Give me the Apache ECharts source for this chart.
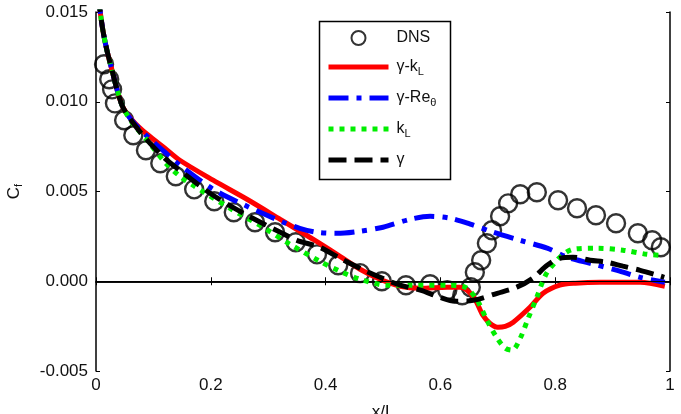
<!DOCTYPE html>
<html>
<head>
<meta charset="utf-8">
<script src="https://cdn.jsdelivr.net/npm/echarts@6/dist/echarts.min.js"></script>
<style>
  html, body { margin: 0; padding: 0; background: #fff; }
  #chart { width: 681px; height: 414px; }
</style>
</head>
<body>
<div id="chart"></div>
<script>
// DNS skin friction
var dnsX = [0.014, 0.023, 0.028, 0.033, 0.049, 0.065, 0.087, 0.112, 0.139, 0.171, 0.206, 0.240,
  0.277, 0.312, 0.348, 0.385, 0.422, 0.460, 0.498, 0.540, 0.582, 0.612, 0.638, 0.653, 0.660,
  0.671, 0.681, 0.690, 0.704, 0.718, 0.739, 0.768, 0.805, 0.838, 0.871, 0.906, 0.944, 0.969, 0.984];
var dnsY = [0.01209, 0.01125, 0.01069, 0.00991, 0.00897, 0.00813, 0.00730, 0.00657, 0.00585, 0.00512,
  0.00446, 0.00384, 0.00329, 0.00273, 0.00217, 0.00150, 0.00089, 0.00045, 0.00000, -0.00022, -0.00017,
  -0.00050, -0.00078, -0.00033, 0.00050, 0.00117, 0.00212, 0.00284, 0.00362, 0.00434, 0.00485,
  0.00496, 0.00451, 0.00407, 0.00368, 0.00323, 0.00267, 0.00228, 0.00189];

// gamma-kL model
var redX = [0.004, 0.007, 0.012, 0.019, 0.028, 0.037, 0.047, 0.065, 0.089, 0.120, 0.146, 0.204, 0.263,
  0.321, 0.378, 0.425, 0.460, 0.495, 0.530, 0.565, 0.612, 0.634, 0.657, 0.674, 0.686, 0.700, 0.713,
  0.727, 0.756, 0.779, 0.808, 0.835, 0.878, 0.948, 0.991];
var redY = [0.0160, 0.01510, 0.01398, 0.01287, 0.01175, 0.01064, 0.00969, 0.00891, 0.00819, 0.00741,
  0.00674, 0.00563, 0.00457, 0.00345, 0.00234, 0.00139, 0.00067, 0.00011, -0.00028, -0.00039,
  -0.00033, -0.00033, -0.00084, -0.00189, -0.00234, -0.00256, -0.00251, -0.00228, -0.00145,
  -0.00067, -0.00022, -0.00011, -0.00006, -0.00006, -0.00028];

// gamma-Re_theta model
var blueX = [0.004, 0.007, 0.012, 0.019, 0.028, 0.037, 0.047, 0.065, 0.089, 0.120, 0.146, 0.204, 0.263,
  0.326, 0.355, 0.385, 0.420, 0.460, 0.500, 0.547, 0.582, 0.617, 0.652, 0.692, 0.739, 0.786, 0.821,
  0.861, 0.908, 0.948, 0.991];
var blueY = [0.0160, 0.01510, 0.01398, 0.01287, 0.01175, 0.01064, 0.00969, 0.00886, 0.00808, 0.00719,
  0.00646, 0.00513, 0.00418, 0.00329, 0.00295, 0.00273, 0.00267, 0.00279, 0.00301, 0.00345, 0.00362,
  0.00351, 0.00318, 0.00273, 0.00228, 0.00184, 0.00134, 0.00100, 0.00061, 0.00022, -0.00006];

// kL model
var greenX = [0.004, 0.007, 0.012, 0.019, 0.028, 0.037, 0.047, 0.065, 0.089, 0.120, 0.146, 0.169, 0.233,
  0.291, 0.338, 0.390, 0.425, 0.460, 0.507, 0.552, 0.612, 0.643, 0.664, 0.681, 0.699, 0.713, 0.725,
  0.739, 0.753, 0.768, 0.777, 0.786, 0.800, 0.812, 0.831, 0.873, 0.918, 0.960, 0.983];
var greenY = [0.0160, 0.01510, 0.01398, 0.01287, 0.01175, 0.01064, 0.00969, 0.00875, 0.00786, 0.00663,
  0.00585, 0.00535, 0.00407, 0.00301, 0.00206, 0.00111, 0.00056, 0.00011, -0.00022, -0.00022,
  -0.00022, -0.00033, -0.00106, -0.00217, -0.00318, -0.00373, -0.00384, -0.00318, -0.00206,
  -0.00089, -0.00011, 0.00050, 0.00106, 0.00145, 0.00178, 0.00184, 0.00173, 0.00150, 0.00145];

// gamma model
var blackX = [0.004, 0.007, 0.012, 0.019, 0.028, 0.037, 0.047, 0.065, 0.089, 0.120, 0.146, 0.204, 0.263,
  0.321, 0.350, 0.390, 0.425, 0.460, 0.495, 0.530, 0.565, 0.599, 0.625, 0.657, 0.699, 0.733, 0.761,
  0.786, 0.808, 0.831, 0.861, 0.890, 0.918, 0.948, 0.979, 0.990];
var blackY = [0.0160, 0.01510, 0.01398, 0.01287, 0.01175, 0.01064, 0.00969, 0.00880, 0.00786, 0.00685,
  0.00618, 0.00479, 0.00368, 0.00273, 0.00228, 0.00189, 0.00128, 0.00072, 0.00022, -0.00022,
  -0.00050, -0.00089, -0.00111, -0.00106, -0.00067, -0.00033, 0.00017, 0.00089, 0.00128, 0.00134,
  0.00117, 0.00106, 0.00084, 0.00061, 0.00033, 0.00022];

var xTicks = [0, 0.2, 0.4, 0.6, 0.8, 1];
var yTicks = [-0.005, 0, 0.005, 0.010, 0.015];

function zip(xs, ys) {
  return xs.map(function (x, i) { return [x, ys[i]]; });
}

var legendText = {
  'DNS': 'DNS',
  'γ-kL': 'γ-k{sub|L}',
  'γ-Reθ': 'γ-Re{sub|θ}',
  'kL': 'k{sub|L}',
  'γ': 'γ'
};

function lineItem(name) {
  return { name: name, itemStyle: { opacity: 0 }, lineStyle: { width: 5 } };
}

var font = 'Liberation Sans, Arial, sans-serif';
var myChart = echarts.init(document.getElementById('chart'));
var option = {
  animation: false,
  backgroundColor: '#fff',
  grid: { left: 96, right: 11, top: 12, bottom: 43, containLabel: false, outerBoundsMode: 'none' },
  xAxis: [{
    type: 'value', min: xTicks[0], max: xTicks[xTicks.length - 1], interval: 0.2,
    name: 'x/L', nameLocation: 'middle', nameGap: 33,
    nameTextStyle: { fontFamily: font, fontSize: 17, color: '#111' },
    axisLine: { lineStyle: { color: '#000', width: 1.5 } },
    axisTick: { inside: true, length: 4, lineStyle: { color: '#000' } },
    axisLabel: { fontFamily: font, fontSize: 17, color: '#111', margin: 6,
      formatter: function (v) { return String(+v.toFixed(1)); } },
    splitLine: { show: false }
  }, {
    type: 'value', position: 'top', min: xTicks[0], max: xTicks[xTicks.length - 1], interval: 0.2,
    axisLine: { lineStyle: { color: '#000', width: 1.5 } },
    axisTick: { inside: true, length: 4, lineStyle: { color: '#000' } },
    axisLabel: { show: false }, splitLine: { show: false }
  }],
  yAxis: [{
    type: 'value', min: yTicks[0], max: yTicks[yTicks.length - 1], interval: 0.005,
    name: 'C{sub|f}', nameLocation: 'middle', nameGap: 72,
    nameTextStyle: { fontFamily: font, fontSize: 17, color: '#111',
      rich: { sub: { fontSize: 11, padding: [9, 0, 0, 0] } } },
    axisLine: { onZero: false, lineStyle: { color: '#000', width: 1.5 } },
    axisTick: { inside: true, length: 4, lineStyle: { color: '#000' } },
    axisLabel: { fontFamily: font, fontSize: 17, color: '#111', margin: 8,
      formatter: function (v) { return v.toFixed(3); } },
    splitLine: { show: false }
  }, {
    type: 'value', position: 'right', min: yTicks[0], max: yTicks[yTicks.length - 1], interval: 0.005,
    axisLine: { show: true, onZero: false, lineStyle: { color: '#000', width: 1.5 } },
    axisTick: { show: true, inside: true, length: 4, lineStyle: { color: '#000' } },
    axisLabel: { show: false }, splitLine: { show: false }
  }],
  legend: {
    orient: 'vertical', left: 326, top: 30, padding: 0,
    itemWidth: 60, itemHeight: 14, itemGap: 13,
    data: ['DNS', lineItem('γ-kL'), lineItem('γ-Reθ'), lineItem('kL'), lineItem('γ')],
    formatter: function (name) { return legendText[name]; },
    textStyle: { fontFamily: font, fontSize: 16, color: '#111', padding: [0, 0, 0, 3],
      rich: { sub: { fontSize: 11, padding: [9, 0, 0, 0] } } }
  },
  graphic: [{
    type: 'rect', left: 317, top: 19, z: 10,
    shape: { width: 131, height: 158 },
    style: { fill: 'none', stroke: '#000', lineWidth: 1.5 }
  }],
  series: [{
    name: 'DNS', type: 'scatter', data: zip(dnsX, dnsY),
    symbol: 'circle', symbolSize: 18,
    itemStyle: { color: 'rgba(255,255,255,0)', borderColor: '#000', borderWidth: 2.4 },
    z: 2
  }, {
    name: 'γ-kL', type: 'line', data: zip(redX, redY), smooth: 0.3, showSymbol: false, symbol: 'none',
    itemStyle: { color: '#ff0000' },
    lineStyle: { color: '#ff0000', width: 5 }, z: 3,
    markLine: {
      silent: true, symbol: 'none', label: { show: false },
      lineStyle: { color: '#000', width: 1, type: 'solid' },
      data: [{ yAxis: 0 }]
    }
  }, {
    name: 'γ-Reθ', type: 'line', data: zip(blueX, blueY), smooth: 0.3, showSymbol: false, symbol: 'none',
    itemStyle: { color: '#0000ff' },
    lineStyle: { color: '#0000ff', width: 5, type: [20, 8, 5, 8] }, z: 4
  }, {
    name: 'kL', type: 'line', data: zip(greenX, greenY), smooth: 0.3, showSymbol: false, symbol: 'none',
    itemStyle: { color: '#00ee00' },
    lineStyle: { color: '#00ee00', width: 5, type: [5, 6], cap: 'butt' }, z: 5
  }, {
    name: 'γ', type: 'line', data: zip(blackX, blackY), smooth: 0.3, showSymbol: false, symbol: 'none',
    itemStyle: { color: '#000' },
    lineStyle: { color: '#000', width: 5, type: [18, 8] }, z: 6
  }]
};
myChart.setOption(option);
</script>
</body>
</html>
